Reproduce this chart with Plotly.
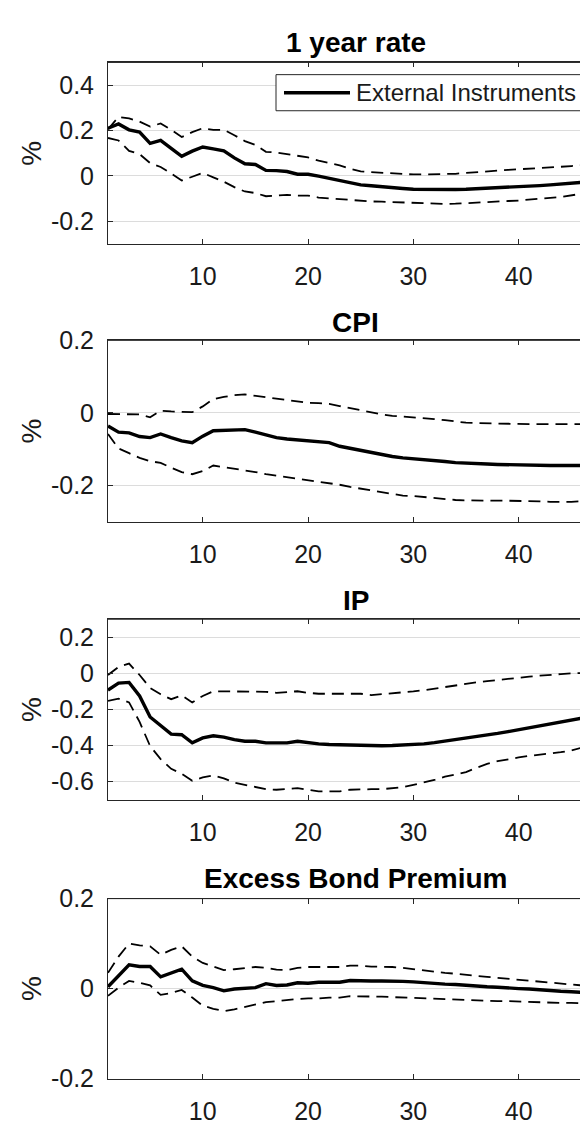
import plotly.graph_objects as go

horizon = list(range(1, 48))

titles = ["1 year rate", "CPI", "IP", "Excess Bond Premium"]
legend_label = "External Instruments"
y_label = "%"

main1 = [0.21, 0.229, 0.203, 0.193, 0.143, 0.156, 0.121, 0.086, 0.109, 0.127, 0.119, 0.11, 0.079, 0.053, 0.05, 0.024, 0.023, 0.019, 0.007, 0.007, -0.001, -0.01, -0.019,
         -0.03, -0.04, -0.044, -0.049, -0.051, -0.056, -0.059, -0.06, -0.06, -0.06, -0.06, -0.059, -0.057, -0.056, -0.053, -0.051, -0.049, -0.046, -0.043, -0.04, -0.037, -0.033, -0.029, -0.024]
upper1 = [0.205, 0.26, 0.253, 0.239, 0.217, 0.231, 0.203, 0.171, 0.193, 0.21, 0.203, 0.203, 0.179, 0.153, 0.136, 0.106, 0.103, 0.096, 0.086, 0.081, 0.067, 0.057, 0.046,
          0.031, 0.02, 0.016, 0.013, 0.01, 0.007, 0.006, 0.006, 0.007, 0.007, 0.009, 0.013, 0.017, 0.02, 0.023, 0.026, 0.029, 0.031, 0.034, 0.037, 0.04, 0.043, 0.046, 0.049]
lower1 = [0.167, 0.156, 0.11, 0.096, 0.056, 0.039, 0.01, -0.021, -0.004, 0.013, -0.007, -0.026, -0.05, -0.069, -0.076, -0.09, -0.087, -0.084, -0.087, -0.087, -0.096, -0.1, -0.101,
          -0.107, -0.11, -0.113, -0.114, -0.116, -0.119, -0.121, -0.123, -0.124, -0.124, -0.123, -0.12, -0.119, -0.116, -0.113, -0.111, -0.109, -0.106, -0.101, -0.097, -0.093, -0.087, -0.079, -0.069]

main2 = [-0.036, -0.053, -0.055, -0.065, -0.068, -0.058, -0.068, -0.077, -0.082, -0.064, -0.049, -0.048, -0.048, -0.046, -0.053, -0.06, -0.068, -0.072, -0.074, -0.076, -0.078, -0.082, -0.092,
         -0.098, -0.104, -0.109, -0.115, -0.12, -0.124, -0.126, -0.129, -0.132, -0.134, -0.137, -0.139, -0.14, -0.141, -0.142, -0.143, -0.144, -0.145, -0.145, -0.145, -0.145, -0.145, -0.145, -0.145]
upper2 = [-0.003, -0.004, -0.003, -0.004, -0.012, 0.006, 0.004, 0.002, 0.002, 0.018, 0.038, 0.044, 0.049, 0.051, 0.047, 0.044, 0.04, 0.036, 0.031, 0.028, 0.027, 0.025, 0.019,
          0.013, 0.007, 0.001, -0.004, -0.008, -0.01, -0.012, -0.013, -0.017, -0.02, -0.024, -0.027, -0.028, -0.029, -0.03, -0.031, -0.031, -0.031, -0.031, -0.031, -0.031, -0.031, -0.031, -0.031]
lower2 = [-0.058, -0.098, -0.111, -0.124, -0.133, -0.138, -0.151, -0.163, -0.169, -0.16, -0.145, -0.149, -0.154, -0.157, -0.163, -0.169, -0.173, -0.178, -0.182, -0.187, -0.189, -0.193, -0.198,
          -0.204, -0.209, -0.214, -0.22, -0.225, -0.228, -0.229, -0.232, -0.236, -0.238, -0.24, -0.241, -0.242, -0.242, -0.242, -0.242, -0.242, -0.243, -0.244, -0.245, -0.246, -0.245, -0.243, -0.241]

main3 = [-0.093, -0.054, -0.05, -0.125, -0.242, -0.29, -0.337, -0.34, -0.385, -0.358, -0.346, -0.353, -0.367, -0.376, -0.376, -0.385, -0.387, -0.385, -0.376, -0.385, -0.391, -0.394, -0.396,
         -0.396, -0.398, -0.403, -0.401, -0.4, -0.398, -0.394, -0.391, -0.384, -0.376, -0.369, -0.36, -0.351, -0.342, -0.333, -0.323, -0.312, -0.301, -0.29, -0.28, -0.269, -0.258, -0.247, -0.237]
upper3 = [-0.009, 0.036, 0.054, -0.009, -0.081, -0.116, -0.143, -0.122, -0.161, -0.125, -0.099, -0.099, -0.102, -0.102, -0.102, -0.102, -0.108, -0.104, -0.099, -0.108, -0.113, -0.113, -0.113,
          -0.113, -0.113, -0.12, -0.116, -0.111, -0.108, -0.1, -0.093, -0.084, -0.075, -0.066, -0.057, -0.05, -0.043, -0.036, -0.029, -0.023, -0.018, -0.013, -0.007, -0.004, 0.0, 0.002, 0.004]
lower3 = [-0.152, -0.14, -0.161, -0.269, -0.403, -0.475, -0.529, -0.556, -0.595, -0.577, -0.565, -0.582, -0.606, -0.618, -0.627, -0.642, -0.645, -0.642, -0.636, -0.645, -0.654, -0.654, -0.654,
          -0.645, -0.642, -0.642, -0.642, -0.636, -0.631, -0.618, -0.606, -0.591, -0.573, -0.561, -0.547, -0.523, -0.502, -0.487, -0.475, -0.466, -0.457, -0.452, -0.444, -0.437, -0.427, -0.412, -0.398]

main4 = [0.004, 0.029, 0.053, 0.049, 0.049, 0.026, 0.035, 0.043, 0.017, 0.007, 0.002, -0.005, -0.001, 0.0, 0.002, 0.011, 0.007, 0.008, 0.013, 0.012, 0.014, 0.014, 0.014,
         0.018, 0.017, 0.017, 0.017, 0.017, 0.016, 0.015, 0.013, 0.012, 0.01, 0.009, 0.007, 0.006, 0.004, 0.003, 0.001, 0.0, -0.001, -0.003, -0.004, -0.006, -0.007, -0.009, -0.01]
upper4 = [0.035, 0.071, 0.1, 0.096, 0.094, 0.075, 0.086, 0.094, 0.071, 0.057, 0.049, 0.041, 0.043, 0.046, 0.048, 0.046, 0.042, 0.041, 0.046, 0.048, 0.048, 0.048, 0.048,
          0.051, 0.051, 0.049, 0.049, 0.048, 0.046, 0.043, 0.041, 0.038, 0.035, 0.033, 0.03, 0.028, 0.026, 0.024, 0.022, 0.02, 0.017, 0.015, 0.013, 0.011, 0.009, 0.007, 0.004]
lower4 = [-0.016, 0.002, 0.017, 0.013, 0.007, -0.014, -0.01, -0.003, -0.02, -0.038, -0.045, -0.05, -0.046, -0.041, -0.036, -0.03, -0.028, -0.025, -0.023, -0.022, -0.022, -0.02, -0.02,
          -0.017, -0.017, -0.017, -0.018, -0.019, -0.02, -0.02, -0.022, -0.023, -0.024, -0.025, -0.025, -0.026, -0.027, -0.028, -0.028, -0.029, -0.03, -0.03, -0.031, -0.032, -0.032, -0.033, -0.033]

x_tickvals = [10, 20, 30, 40]
x_ticktext = ["10", "20", "30", "40"]
y_ranges = [[-0.3, 0.5], [-0.3, 0.2], [-0.7, 0.3], [-0.2, 0.2]]
y_tickvals = [[-0.2, 0, 0.2, 0.4], [-0.2, 0, 0.2], [-0.6, -0.4, -0.2, 0, 0.2], [-0.2, 0, 0.2]]
y_ticktext = [["-0.2", "0", "0.2", "0.4"], ["-0.2", "0", "0.2"], ["-0.6", "-0.4", "-0.2", "0", "0.2"], ["-0.2", "0", "0.2"]]

mains = [main1, main2, main3, main4]
uppers = [upper1, upper2, upper3, upper4]
lowers = [lower1, lower2, lower3, lower4]

W, H = 588, 1125
FONT = "Liberation Sans, Arial, sans-serif"
# panel pixel boxes (top, bottom)
panel_px = [(41.5, 227.5), (326.5, 512.5), (612.5, 797.5), (899, 1083.5)]
title_px = [21, 308, 593, 878]
left_px = 100

fig = go.Figure()
layout = dict(
    width=W, height=H, margin=dict(l=0, r=0, t=0, b=0),
    paper_bgcolor="white", plot_bgcolor="white", showlegend=False,
    font=dict(family=FONT, color="#1a1a1a", size=25),
)
annotations = []
shapes = []
for i in range(4):
    n = i + 1
    xa = "x" if n == 1 else f"x{n}"
    ya = "y" if n == 1 else f"y{n}"
    top, bot = panel_px[i]
    for series, dash, width in [(uppers[i], "12px,7px", 1.8), (lowers[i], "12px,7px", 1.8), (mains[i], "solid", 3.4)]:
        fig.add_trace(go.Scatter(x=horizon, y=series, mode="lines", xaxis=xa, yaxis=ya,
                                 line=dict(color="black", width=width, dash=dash),
                                 name=legend_label if dash == "solid" else "bounds",
                                 hoverinfo="skip"))
    layout[f"xaxis{n if n > 1 else ''}"] = dict(
        domain=[left_px / W, 1.0], anchor=ya, range=[1, 1 + (W - left_px) / 10.53],
        tickvals=x_tickvals, ticktext=x_ticktext, ticks="inside", ticklen=5, tickwidth=1,
        tickcolor="#262626", showline=True, linecolor="#262626", linewidth=1, mirror="ticks",
        showgrid=False, zeroline=False, ticklabelstandoff=10,
        tickfont=dict(family=FONT, size=25, color="#1a1a1a"),
    )
    layout[f"yaxis{n if n > 1 else ''}"] = dict(
        domain=[1 - bot / H, 1 - top / H], anchor=xa, range=y_ranges[i],
        tickvals=y_tickvals[i], ticktext=y_ticktext[i], ticks="inside", ticklen=5, tickwidth=1,
        tickcolor="#262626", showline=True, linecolor="#262626", linewidth=1, mirror=False,
        showgrid=True, gridcolor="#dcdcdc", gridwidth=1, zeroline=False, ticklabelstandoff=8,
        tickfont=dict(family=FONT, size=25, color="#1a1a1a"),
    )
    # top border
    shapes.append(dict(type="line", xref="paper", yref="paper", x0=left_px / W, x1=1.0,
                       y0=1 - top / H, y1=1 - top / H, line=dict(color="#262626", width=1)))
    annotations.append(dict(text=f"<b>{titles[i]}</b>", xref="paper", yref="paper",
                            x=(left_px + 595) / 2 / W, y=1 - title_px[i] / H, xanchor="center", yanchor="middle",
                            showarrow=False, font=dict(family=FONT, size=28, color="black")))
    annotations.append(dict(text=y_label, xref="paper", yref="paper", textangle=-90,
                            x=23.5 / W, y=1 - (top + bot) / 2 / H, xanchor="center", yanchor="middle",
                            showarrow=False, font=dict(family=FONT, size=28, color="#1a1a1a")))

# legend box (manual, panel 1)
lg_l, lg_r, lg_t, lg_b = 268, 578, 54, 91
shapes.append(dict(type="rect", xref="paper", yref="paper", x0=lg_l / W, x1=lg_r / W,
                   y0=1 - lg_b / H, y1=1 - lg_t / H, line=dict(color="#262626", width=1),
                   fillcolor="white", layer="above"))
shapes.append(dict(type="line", xref="paper", yref="paper", x0=276 / W, x1=342 / W,
                   y0=1 - 72.5 / H, y1=1 - 72.5 / H, line=dict(color="black", width=3.4), layer="above"))
annotations.append(dict(text=legend_label, xref="paper", yref="paper", x=346 / W, y=1 - 72.5 / H,
                        xanchor="left", yanchor="middle", showarrow=False,
                        font=dict(family=FONT, size=24, color="#1a1a1a")))

layout["annotations"] = annotations
layout["shapes"] = shapes
fig.update_layout(**layout)
fig.write_html("out.html")
